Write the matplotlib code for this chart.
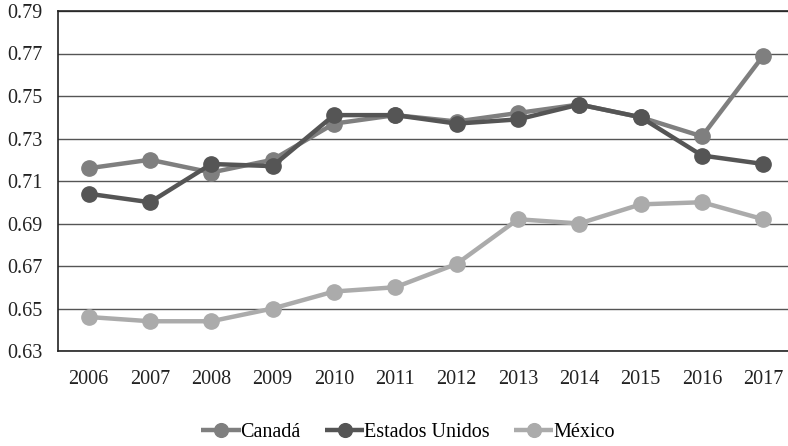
import matplotlib
matplotlib.use("Agg")
import matplotlib.pyplot as plt
from matplotlib.ticker import FixedLocator

years = ["2006", "2007", "2008", "2009", "2010", "2011", "2012", "2013", "2014", "2015", "2016", "2017"]
canada = [0.716, 0.720, 0.714, 0.720, 0.737, 0.741, 0.738, 0.742, 0.746, 0.740, 0.731, 0.769]
estados_unidos = [0.704, 0.700, 0.718, 0.717, 0.741, 0.741, 0.737, 0.739, 0.746, 0.740, 0.722, 0.718]
mexico = [0.646, 0.644, 0.644, 0.650, 0.658, 0.660, 0.671, 0.692, 0.690, 0.699, 0.700, 0.692]
yticks = [0.63, 0.65, 0.67, 0.69, 0.71, 0.73, 0.75, 0.77, 0.79]

plt.rcParams['font.family'] = ['Liberation Serif', 'DejaVu Serif']

fig = plt.figure(figsize=(7.88, 4.46), dpi=100)
ax = fig.add_axes([58/788, 1 - 351/446, (794 - 58)/788, (351 - 11)/446])

x = list(range(len(years)))
series = [("Canadá", canada, "#7f7f7f"),
          ("Estados Unidos", estados_unidos, "#555555"),
          ("México", mexico, "#ababab")]
for name, vals, col in series:
    ax.plot(x, vals, color=col, lw=3.2, marker='o', ms=11, mec=col, mfc=col,
            label=name, solid_capstyle='butt', zorder=3)

ax.set_xlim(-0.5, len(years) - 0.5)
ax.set_ylim(0.63, 0.79)
ax.yaxis.set_major_locator(FixedLocator(yticks))
ax.set_yticklabels([f"{v:.2f}" for v in yticks])
ax.set_xticks(x)
ax.set_xticklabels(years)
ax.grid(axis='y', color='#555555', lw=1.0, zorder=0)
ax.tick_params(axis='both', length=0, labelsize=14.5, colors='#222222')
ax.tick_params(axis='x', pad=14)
ax.tick_params(axis='y', pad=11)
for s in ['right']:
    ax.spines[s].set_visible(False)
for s in ['left', 'bottom', 'top']:
    ax.spines[s].set_color('#222222')
    ax.spines[s].set_linewidth(1.2)

leg = fig.legend(loc='center', bbox_to_anchor=(408/788, 1 - 432/446), ncol=3, frameon=False,
                 fontsize=14.5, handlelength=1.95, handletextpad=0.0, columnspacing=1.2,
                 markerscale=0.9)

fig.savefig("out.png", dpi=100)
